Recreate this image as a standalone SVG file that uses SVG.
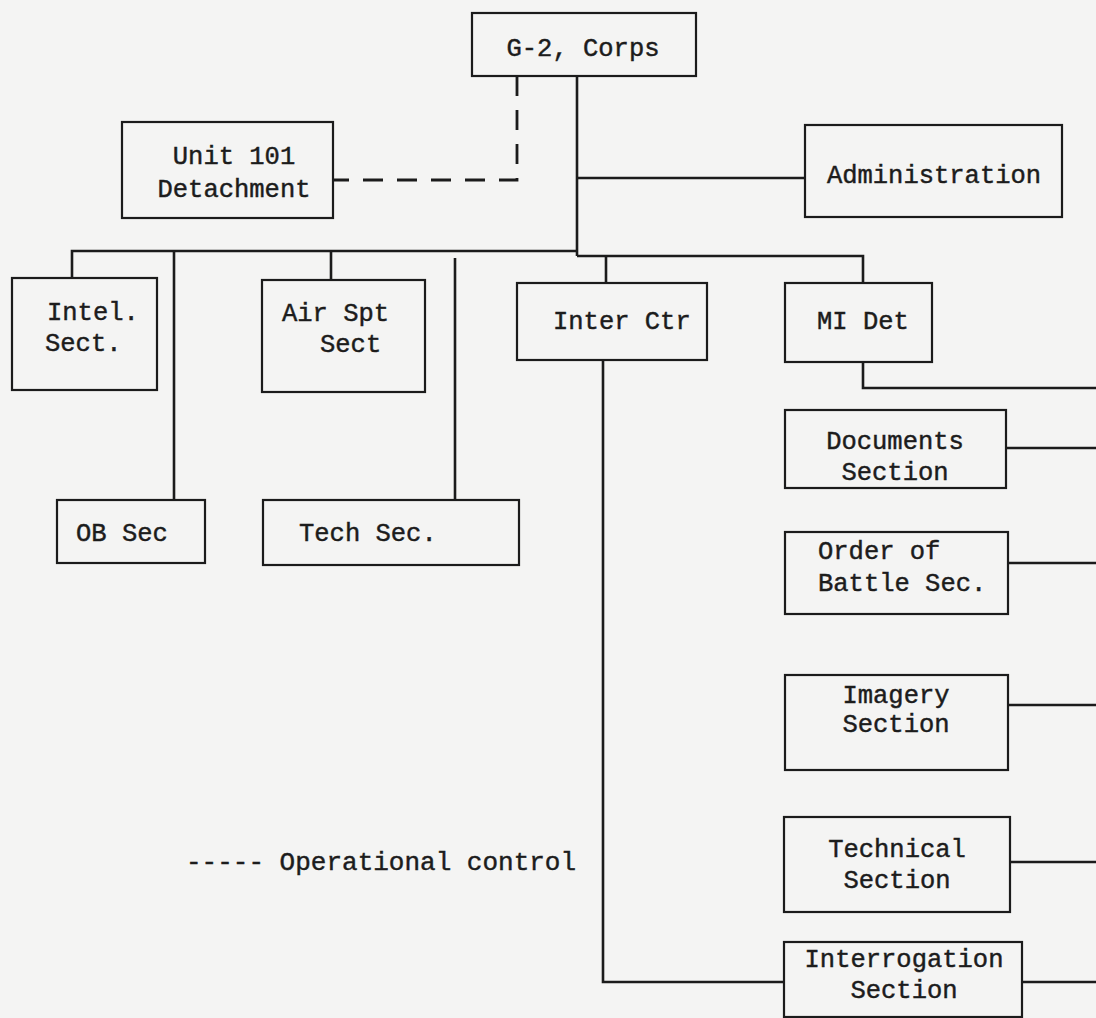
<svg xmlns="http://www.w3.org/2000/svg" width="1096" height="1018" viewBox="0 0 1096 1018">
<style>
.bg{fill:#f4f4f3}
.box{fill:none;stroke:#1b1b1b;stroke-width:2.2}
.ln{fill:none;stroke:#1b1b1b;stroke-width:2.6}
.dash{fill:none;stroke:#1b1b1b;stroke-width:2.8;stroke-dasharray:20 14}
text{font-family:"Liberation Mono","DejaVu Sans Mono",monospace;font-size:25.5px;fill:#1c1c1c;stroke:#1c1c1c;stroke-width:0.45}
.m{text-anchor:middle}
</style>
<rect class="bg" x="0" y="0" width="1096" height="1018"/>
<g id="connectors">
  <path class="dash" d="M517,76 V180 H333"/>
  <path class="ln" d="M577,76 V256"/>
  <path class="ln" d="M577,178 H805"/>
  <path class="ln" d="M72,278 V251 H577"/>
  <path class="ln" d="M577,256 H863 V283"/>
  <path class="ln" d="M174,251 V500"/>
  <path class="ln" d="M331,251 V280"/>
  <path class="ln" d="M455,258 V500"/>
  <path class="ln" d="M606,256 V283"/>
  <path class="ln" d="M863,362 V388 H1096"/>
  <path class="ln" d="M603,360 V982 H784"/>
  <path class="ln" d="M1006,448 H1096"/>
  <path class="ln" d="M1008,563 H1096"/>
  <path class="ln" d="M1008,705 H1096"/>
  <path class="ln" d="M1010,862 H1096"/>
  <path class="ln" d="M1022,982 H1096"/>
</g>
<g id="g2-corps">
  <rect class="box" x="472" y="13" width="224" height="63"/>
  <text class="m" x="583" y="56">G-2, Corps</text>
</g>
<g id="unit-101">
  <rect class="box" x="122" y="122" width="211" height="96"/>
  <text class="m" x="234" y="164">Unit 101</text>
  <text class="m" x="234" y="197">Detachment</text>
</g>
<g id="administration">
  <rect class="box" x="805" y="125" width="257" height="92"/>
  <text class="m" x="934" y="183">Administration</text>
</g>
<g id="intel-sect">
  <rect class="box" x="12" y="278" width="145" height="112"/>
  <text x="47" y="320">Intel.</text>
  <text x="45" y="351">Sect.</text>
</g>
<g id="air-spt-sect">
  <rect class="box" x="262" y="280" width="163" height="112"/>
  <text x="282" y="321">Air Spt</text>
  <text x="320" y="352">Sect</text>
</g>
<g id="inter-ctr">
  <rect class="box" x="517" y="283" width="190" height="77"/>
  <text x="553" y="329">Inter Ctr</text>
</g>
<g id="mi-det">
  <rect class="box" x="785" y="283" width="147" height="79"/>
  <text x="817" y="329">MI Det</text>
</g>
<g id="ob-sec">
  <rect class="box" x="57" y="500" width="148" height="63"/>
  <text x="76" y="541">OB Sec</text>
</g>
<g id="tech-sec">
  <rect class="box" x="263" y="500" width="256" height="65"/>
  <text x="299" y="541">Tech Sec.</text>
</g>
<g id="documents-section">
  <rect class="box" x="785" y="410" width="221" height="78"/>
  <text class="m" x="895" y="449">Documents</text>
  <text class="m" x="895" y="480">Section</text>
</g>
<g id="order-of-battle-sec">
  <rect class="box" x="785" y="532" width="223" height="82"/>
  <text x="818" y="559">Order of</text>
  <text x="818" y="591">Battle Sec.</text>
</g>
<g id="imagery-section">
  <rect class="box" x="785" y="675" width="223" height="95"/>
  <text class="m" x="896" y="703">Imagery</text>
  <text class="m" x="896" y="732">Section</text>
</g>
<g id="technical-section">
  <rect class="box" x="784" y="817" width="226" height="95"/>
  <text class="m" x="897" y="857">Technical</text>
  <text class="m" x="897" y="888">Section</text>
</g>
<g id="interrogation-section">
  <rect class="box" x="784" y="942" width="238" height="75"/>
  <text class="m" x="904" y="967">Interrogation</text>
  <text class="m" x="904" y="998">Section</text>
</g>
<g id="legend">
  <text x="186" y="870" style="font-size:26px">----- Operational control</text>
</g>
</svg>
